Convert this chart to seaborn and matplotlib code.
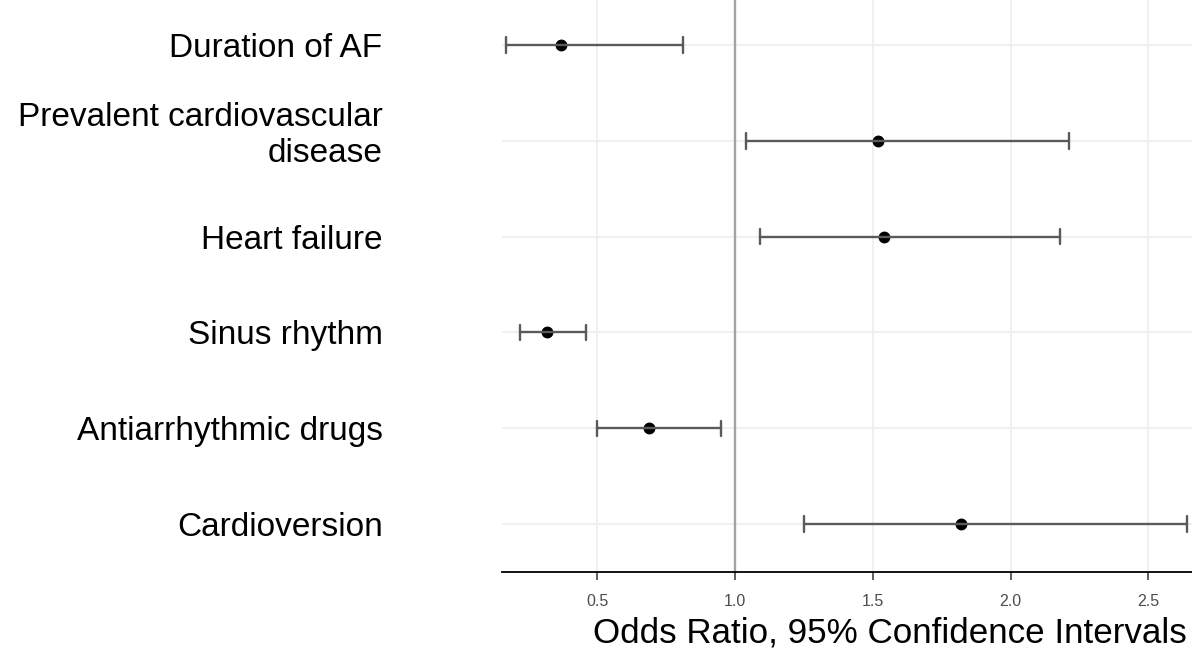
import pandas as pd
import matplotlib
matplotlib.use("Agg")
import matplotlib.pyplot as plt
import matplotlib.transforms as mtransforms
import seaborn as sns

# odds ratios with 95% CI
factors = ["Duration of AF", "Prevalent cardiovascular\ndisease", "Heart failure",
           "Sinus rhythm", "Antiarrhythmic drugs", "Cardioversion"]
odds_ratio = [0.37, 1.52, 1.54, 0.32, 0.69, 1.82]
ci_low = [0.17, 1.04, 1.09, 0.22, 0.50, 1.25]
ci_high = [0.81, 2.21, 2.18, 0.46, 0.95, 2.64]
x_ticks = [0.5, 1.0, 1.5, 2.0, 2.5]

sns.set_theme(style="whitegrid")
plt.rcParams['font.family'] = ['Liberation Sans', 'DejaVu Sans']

# long format: median of (low, OR, high) is the OR, min/max give the CI
rows = []
for f, lo, est, hi in zip(factors, ci_low, odds_ratio, ci_high):
    for v in (lo, est, hi):
        rows.append({'factor': f, 'value': v})
df = pd.DataFrame(rows)

fig = plt.figure(figsize=(11.92, 6.6), dpi=100)
ax = fig.add_axes([502 / 1192, 88 / 660, 690 / 1192, 572 / 660])

ax.axvline(1.0, color='#a3a3a3', lw=1.7, zorder=1)

sns.pointplot(data=df, x='value', y='factor', order=factors,
              estimator='median', errorbar=('pi', 100),
              color='black', linestyle='none', marker='o', markersize=6.5,
              capsize=0.16, err_kws={'color': '#5a5a5a', 'linewidth': 1.7},
              ax=ax)

ax.set_xlim(0.155, 2.658)
ax.set_ylim(5.5, -0.47)
ax.set_xticks(x_ticks)
ax.set_xticklabels([f"{t:.1f}" for t in x_ticks])
ax.set_xlabel('')
ax.set_ylabel('')

ax.grid(True, color='#eeeeee', lw=1.2)
ax.set_axisbelow(True)
for side in ['left', 'right', 'top']:
    ax.spines[side].set_visible(False)
ax.spines['bottom'].set_color('black')
ax.spines['bottom'].set_linewidth(1.3)

ax.tick_params(axis='x', bottom=True, length=6, width=1.1, color='#333333',
               labelsize=11.5, labelcolor='#4d4d4d', pad=10)
ax.tick_params(axis='y', left=False, length=0, pad=86, labelsize=24,
               labelcolor='black')

# the wrapped label sits a little higher than its row in the original
two_line = ax.get_yticklabels()[1]
two_line.set_transform(two_line.get_transform() +
                       mtransforms.ScaledTranslation(0, 8 / 72, fig.dpi_scale_trans))

fig.text(890 / 1192, (660 - 633) / 660, "Odds Ratio, 95% Confidence Intervals",
         ha='center', va='center', fontsize=25.2, color='black')

fig.savefig('out.png', dpi=100)
